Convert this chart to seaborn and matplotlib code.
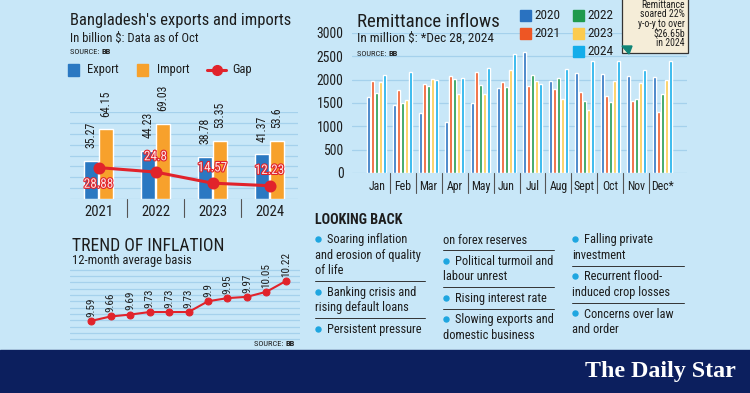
import numpy as np
import pandas as pd
import matplotlib
matplotlib.use("Agg")
import matplotlib.pyplot as plt
import seaborn as sns
import matplotlib.patheffects as pe
from matplotlib import font_manager
from matplotlib.patches import Rectangle, Polygon
from matplotlib.lines import Line2D
from matplotlib.transforms import blended_transform_factory
from matplotlib.ticker import MultipleLocator

# --- data ------------------------------------------------------------------
years = ["2021", "2022", "2023", "2024"]
exports = [35.27, 44.23, 38.78, 41.37]
imports = [64.15, 69.03, 53.35, 53.6]
trade_gap = [28.88, 24.8, 14.57, 12.23]

inflation = [9.59, 9.66, 9.69, 9.73, 9.73, 9.73, 9.9, 9.95, 9.97, 10.05, 10.22]

months = ["Jan", "Feb", "Mar", "Apr", "May", "Jun", "Jul", "Aug", "Sept", "Oct", "Nov", "Dec*"]
remit_years = ["2020", "2021", "2022", "2023", "2024"]
remit_2020 = [1638, 1452, 1286, 1093, 1504, 1832, 2598, 1962, 2153, 2112, 2078, 2052]
remit_2021 = [1962, 1781, 1915, 2068, 2171, 1940, 1872, 1810, 1726, 1644, 1553, 1310]
remit_2022 = [1704, 1492, 1861, 2010, 1885, 1837, 2096, 2036, 1539, 1526, 1595, 1700]
remit_2023 = [1956, 1563, 2022, 1684, 1692, 2199, 1973, 1596, 1344, 1971, 1930, 1991]
remit_2024 = [2110, 2165, 1997, 2043, 2254, 2540, 1914, 2222, 2404, 2395, 2200, 2405]
remit_ticks = [0, 500, 1000, 1500, 2000, 2500, 3000]

callout = "Remittance\nsoared 22%\ny-o-y to over\n$26.65b\nin 2024"

looking_back = [
    [["Soaring inflation", "and erosion of quality", "of life"],
     ["Banking crisis and", "rising default loans"],
     ["Persistent pressure"]],
    [["on forex reserves"],
     ["Political turmoil and", "labour unrest"],
     ["Rising interest rate"],
     ["Slowing exports and", "domestic business"]],
    [["Falling private", "investment"],
     ["Recurrent flood-", "induced crop losses"],
     ["Concerns over law", "and order"]],
]

# --- style --------------------------------------------------------------------
W, H = 750, 393
BG = "#c8e7f8"
NAVY = "#0c1f5e"
GRID = "#a5d1ec"
INK = "#1d1d1d"
BLUE = "#2a78c2"
ORANGE = "#f7a12c"
RED = "#e1232b"
REMIT_COLORS = ["#2a72c0", "#ee5624", "#1f9a4c", "#fccb4e", "#14adea"]

names = {f.name for f in font_manager.fontManager.ttflist}
COND = next((n for n in ["Liberation Sans Narrow", "Roboto Condensed", "Roboto"] if n in names),
            "DejaVu Sans")

sns.set_style("white")
plt.rcParams["font.family"] = [COND, "DejaVu Sans"]
plt.rcParams["font.stretch"] = "condensed"

fig = plt.figure(figsize=(W / 100, H / 100), dpi=100)
fig.patch.set_facecolor(BG)


def px_ax(x0, y0, x1, y1):
    ax = fig.add_axes([x0 / W, 1 - y1 / H, (x1 - x0) / W, (y1 - y0) / H])
    ax.set_facecolor("none")
    for s in ax.spines.values():
        s.set_visible(False)
    return ax


def ftext(x, y, s, size, **kw):
    kw.setdefault("color", INK)
    kw.setdefault("va", "center")
    return fig.text(x / W, 1 - y / H, s, fontsize=size, **kw)


def fit_width(t, width):
    r = fig.canvas.get_renderer()
    w = t.get_window_extent(renderer=r).width
    t.set_fontsize(t.get_fontsize() * width / w)


def frect(x0, y0, x1, y1, **kw):
    fig.add_artist(Rectangle((x0 / W, 1 - y1 / H), (x1 - x0) / W, (y1 - y0) / H,
                             transform=fig.transFigure, **kw))


def source(x, y):
    t = ftext(x, y, "SOURCE: ", 6, va="baseline")
    r = fig.canvas.get_renderer()
    w = t.get_window_extent(renderer=r).width
    ftext(x + w, y, "BB", 6, va="baseline", fontweight="bold")


def separators(ax, n, depth):
    tr = blended_transform_factory(ax.transData, ax.transAxes)
    for i in range(n - 1):
        ax.plot([i + 0.5, i + 0.5], [0, -depth], color="#555555", lw=0.8,
                transform=tr, clip_on=False)


# --- exports and imports ------------------------------------------------------
fit_width(ftext(70, 25, "Bangladesh's exports and imports", 14, va="baseline"), 222)
fit_width(ftext(70, 42, "In billion $: Data as of Oct", 10, va="baseline"), 128)
source(70, 54)

frect(68, 64, 79, 76, color=BLUE)
ftext(87, 70, "Export", 9)
frect(137, 64, 148, 76, color=ORANGE)
ftext(157, 70, "Import", 9)
fig.add_artist(Line2D([207 / W, 226 / W], [1 - 70 / H] * 2, color=RED, lw=2.2,
                      transform=fig.transFigure))
fig.add_artist(Line2D([216.5 / W], [1 - 70 / H], color=RED, marker="o", markersize=7,
                      transform=fig.transFigure))
ftext(232, 70, "Gap", 9)

trade = pd.DataFrame({
    "year": years * 2,
    "value": exports + imports,
    "kind": ["Export"] * 4 + ["Import"] * 4,
})
ax1 = px_ax(70, 112, 298, 199)
sns.barplot(data=trade, x="year", y="value", hue="kind", palette=[BLUE, ORANGE],
            width=0.54, gap=0.12, saturation=1, legend=False, ax=ax1, zorder=2)
for bar in ax1.patches:
    h = bar.get_height()
    ax1.annotate(f"{h:g}", (bar.get_x() + bar.get_width() / 2, h), xytext=(0, 9),
                 textcoords="offset points", rotation=90, ha="center", va="bottom",
                 fontsize=8.5, color=INK)
sns.pointplot(x=years, y=trade_gap, color=RED, markersize=7, linewidth=2.2, ax=ax1, zorder=4)
for i, g in enumerate(trade_gap):
    dy = -12 if i == 0 else 11
    ax1.annotate(f"{g:g}", (i, g), xytext=(0, dy), textcoords="offset points",
                 ha="center", va="center", fontsize=9.5, color="#fde3e3", zorder=5,
                 path_effects=[pe.withStroke(linewidth=1.6, foreground=RED)])
ax1.set_xlim(-0.5, 3.5)
ax1.set_ylim(0, 80)
ax1.set_yticks(range(0, 81, 10))
ax1.yaxis.grid(True, color=GRID, lw=0.9)
ax1.set_axisbelow(True)
ax1.set_yticklabels([])
ax1.tick_params(length=0, pad=4)
ax1.tick_params(axis="x", labelsize=10.5, labelcolor=INK)
ax1.set_xlabel("")
ax1.set_ylabel("")
separators(ax1, 4, 0.21)

# --- inflation ------------------------------------------------------------------
fit_width(ftext(72, 251, "TREND OF INFLATION", 15, va="baseline"), 153)
fit_width(ftext(72, 264, "12-month average basis", 10, va="baseline"), 118)

ax2 = px_ax(70, 268, 300, 345)
sns.lineplot(x=range(len(inflation)), y=inflation, color=RED, marker="o", markersize=5,
             markeredgecolor=RED, linewidth=1.5, ax=ax2)
for i, v in enumerate(inflation):
    ax2.annotate(f"{v:g}", (i, v), xytext=(0, 3), textcoords="offset points",
                 rotation=90, ha="center", va="bottom", fontsize=8, color=INK)
ax2.set_xlim(-1.08, 10.72)
ax2.set_ylim(9.21, 10.425)
ax2.yaxis.set_major_locator(MultipleLocator(0.1))
ax2.yaxis.grid(True, color=GRID, lw=0.9)
ax2.set_axisbelow(True)
ax2.set_xticks([])
ax2.set_yticklabels([])
ax2.tick_params(length=0)
source(254, 346)

# --- remittance -----------------------------------------------------------------
fit_width(ftext(357, 27, "Remittance inflows", 14, va="baseline"), 143)
fit_width(ftext(357, 42, "In million $: *Dec 28, 2024", 10, va="baseline"), 136)
source(357, 56)

remit = pd.DataFrame({
    "month": months * 5,
    "year": np.repeat(remit_years, len(months)),
    "value": remit_2020 + remit_2021 + remit_2022 + remit_2023 + remit_2024,
})
ax3 = px_ax(352, 33, 687, 173)
sns.barplot(data=remit, x="month", y="value", hue="year", order=months,
            palette=REMIT_COLORS, width=0.78, gap=0.3, saturation=1, legend=False,
            ax=ax3, zorder=2)
ax3.set_ylim(0, 3000)
ax3.set_yticks(remit_ticks)
ax3.set_yticklabels([str(t) for t in remit_ticks])
ax3.yaxis.grid(True, color=GRID, lw=0.9)
ax3.set_axisbelow(True)
ax3.tick_params(length=0)
ax3.tick_params(axis="y", labelsize=9.8, pad=6, labelcolor=INK)
ax3.tick_params(axis="x", labelsize=8.5, pad=5, labelcolor=INK)
ax3.set_xlabel("")
ax3.set_ylabel("")
separators(ax3, 12, 0.14)

for k, yr in enumerate(remit_years):
    col, row = (0, k) if k < 2 else (1, k - 2)
    x0 = 520 + col * 53
    y0 = 10 + row * 18
    frect(x0, y0, x0 + 11, y0 + 11, color=REMIT_COLORS[k])
    ftext(x0 + 14, y0 + 5.5, yr, 9.5)

frect(622, -2, 688, 53, facecolor="#f5edd8", edgecolor="#333333", lw=0.9)
fig.add_artist(Polygon([(622 / W, 1 - 46 / H), (632 / W, 1 - 46 / H), (629 / W, 1 - 54 / H)],
                       closed=True, color="#0f8577", transform=fig.transFigure))
ftext(685, 24, callout, 7, ha="right", linespacing=0.95)

# --- looking back ---------------------------------------------------------------
fit_width(ftext(315, 224, "LOOKING BACK", 10, va="baseline", fontweight="bold"), 87)

col_x = [315, 443, 572]
col_w = [110, 111, 112]
for c, items in enumerate(looking_back):
    x = col_x[c]
    y = 240
    for k, item in enumerate(items):
        bullet = not (c == 1 and k == 0)
        for j, line in enumerate(item):
            if j == 0 and bullet:
                fig.add_artist(Line2D([(x + 2.5) / W], [1 - (y - 1) / H], marker="o",
                                      markersize=3.6, color="#1ea6e0", lw=0,
                                      transform=fig.transFigure))
                ftext(x + 12, y, line, 8.9)
            else:
                ftext(x, y, line, 8.9)
            if j < len(item) - 1:
                y += 15.5
        if k < len(items) - 1:
            fig.add_artist(Line2D([x / W, (x + col_w[c]) / W], [1 - (y + 10) / H] * 2,
                                  color="#333333", lw=0.7, transform=fig.transFigure))
            y += 21.5

# --- footer ----------------------------------------------------------------------
frect(0, 350, W, H + 1, color=NAVY)
fit_width(ftext(736, 372, "The Daily Star", 16, ha="right", color="white",
                family="Liberation Serif", fontweight="bold"), 151)

fig.savefig("out.png", dpi=100, facecolor=fig.get_facecolor())
